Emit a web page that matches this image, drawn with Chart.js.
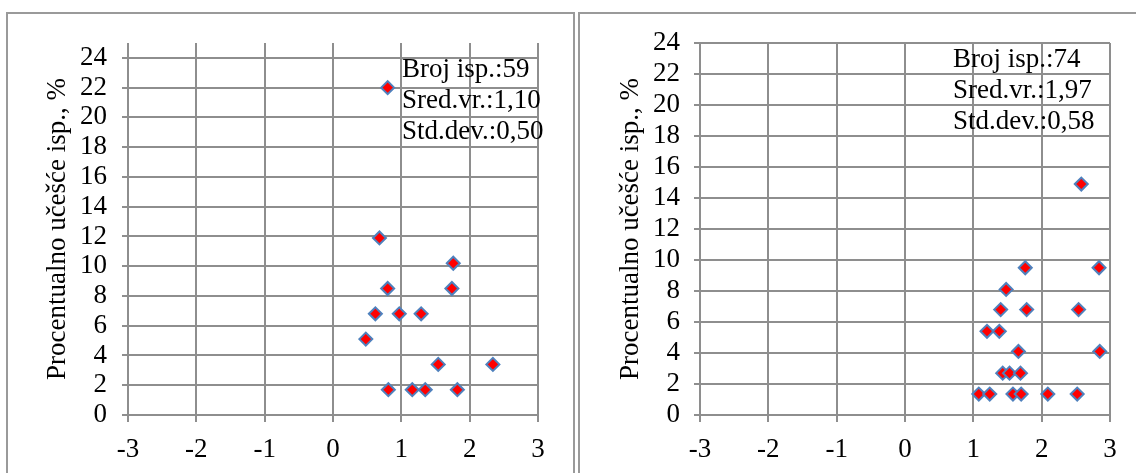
<!DOCTYPE html>
<html>
<head>
<meta charset="utf-8">
<script src="https://cdn.jsdelivr.net/npm/chart.js@4.4.0/dist/chart.umd.min.js"></script>
<style>
  html, body { margin: 0; padding: 0; background: #fff; overflow: hidden; }
  body { width: 1136px; height: 473px; position: relative; }
  .panel { position: absolute; border: 2px solid #9a9a9a; box-sizing: border-box; }
  #p1 { left: 6px; top: 12px; width: 569px; height: 480px; }
  #p2 { left: 578px; top: 12px; width: 600px; height: 480px; }
  canvas { position: absolute; top: 0; }
  #c1 { left: 0; }
  #c2 { left: 570px; }
</style>
</head>
<body>
<div class="panel" id="p1"></div>
<div class="panel" id="p2"></div>
<canvas id="c1" width="570" height="473"></canvas>
<canvas id="c2" width="566" height="473"></canvas>
<script>
// ---- data ----
const yTitle = 'Procentualno učešće isp., %';
const xTicks = [-3, -2, -1, 0, 1, 2, 3];
const yTicks = [0, 2, 4, 6, 8, 10, 12, 14, 16, 18, 20, 22, 24];

const leftX = [0.80, 0.68, 1.76, 0.80, 1.74, 0.62, 0.97, 1.29, 0.48, 1.54, 2.34, 0.81, 1.16, 1.35, 1.82];
const leftY = [22.0, 11.9, 10.2, 8.5, 8.5, 6.8, 6.8, 6.8, 5.1, 3.4, 3.4, 1.7, 1.7, 1.7, 1.7];
const leftStats = ['Broj isp.:59', 'Sred.vr.:1,10', 'Std.dev.:0,50'];

const rightX = [2.58, 1.76, 2.84, 1.48, 1.40, 1.78, 2.54, 1.20, 1.38, 1.66, 2.85, 1.43, 1.53, 1.69, 1.08, 1.24, 1.58, 1.70, 2.09, 2.52];
const rightY = [14.9, 9.5, 9.5, 8.1, 6.8, 6.8, 6.8, 5.4, 5.4, 4.1, 4.1, 2.7, 2.7, 2.7, 1.35, 1.35, 1.35, 1.35, 1.35, 1.35];
const rightStats = ['Broj isp.:74', 'Sred.vr.:1,97', 'Std.dev.:0,58'];

// ---- styling ----
const FONT = "'Liberation Serif', 'Times New Roman', serif";
const GRID = '#8e8e8e';
const FS = 27;

const statsPlugin = {
  id: 'stats',
  afterDatasetsDraw(chart, args, opts) {
    const ctx = chart.ctx;
    ctx.save();
    ctx.font = FS + 'px ' + FONT;
    ctx.fillStyle = '#000';
    ctx.textAlign = 'left';
    ctx.textBaseline = 'alphabetic';
    (opts.lines || []).forEach((t, i) => ctx.fillText(t, opts.x, opts.y + i * opts.lh));
    ctx.restore();
  }
};

function makeChart(id, xs, ys, stats, cfg) {
  const pts = xs.map((x, i) => ({ x: x, y: ys[i] }));
  return new Chart(document.getElementById(id), {
    type: 'scatter',
    data: {
      datasets: [{
        data: pts,
        pointStyle: 'rectRot',
        pointRadius: 6.5,
        pointBorderWidth: 2,
        pointBackgroundColor: '#ff0000',
        pointBorderColor: '#4f81bd'
      }]
    },
    options: {
      responsive: false,
      animation: false,
      events: [],
      layout: { padding: { left: 0, right: cfg.padRight, top: cfg.padTop, bottom: 0 } },
      plugins: {
        legend: { display: false },
        tooltip: { enabled: false },
        stats: { lines: stats, x: cfg.textX, y: cfg.textY, lh: 31 }
      },
      scales: {
        x: {
          type: 'linear',
          min: -3, max: 3,
          afterBuildTicks: s => { s.ticks = xTicks.map(v => ({ value: v })); },
          afterFit: s => { s.height = 58; },
          grid: { color: GRID, lineWidth: 2, tickLength: 7, drawTicks: true },
          border: { display: false },
          ticks: { color: '#000', font: { family: FONT, size: FS }, padding: 12, maxRotation: 0, autoSkip: false }
        },
        y: {
          type: 'linear',
          min: 0, max: cfg.yMax,
          afterBuildTicks: s => { s.ticks = yTicks.map(v => ({ value: v })); },
          afterFit: s => { s.width = cfg.yWidth; },
          grid: { color: GRID, lineWidth: 2, tickLength: 6, drawTicks: true },
          border: { display: false },
          ticks: { color: '#000', font: { family: FONT, size: FS }, padding: cfg.tickPad, autoSkip: false },
          title: {
            display: true, text: yTitle, color: '#000',
            font: { family: FONT, size: FS },
            padding: { top: cfg.titlePad, bottom: 0 }
          }
        }
      }
    },
    plugins: [statsPlugin]
  });
}

makeChart('c1', leftX, leftY, leftStats, {
  yMax: 25, yWidth: 128, padRight: 32, padTop: 43, tickPad: 15, titlePad: 42, textX: 402, textY: 77
});
makeChart('c2', rightX, rightY, rightStats, {
  yMax: 24, yWidth: 130, padRight: 26, padTop: 43, tickPad: 14, titlePad: 45, textX: 383, textY: 67
});
</script>
</body>
</html>
